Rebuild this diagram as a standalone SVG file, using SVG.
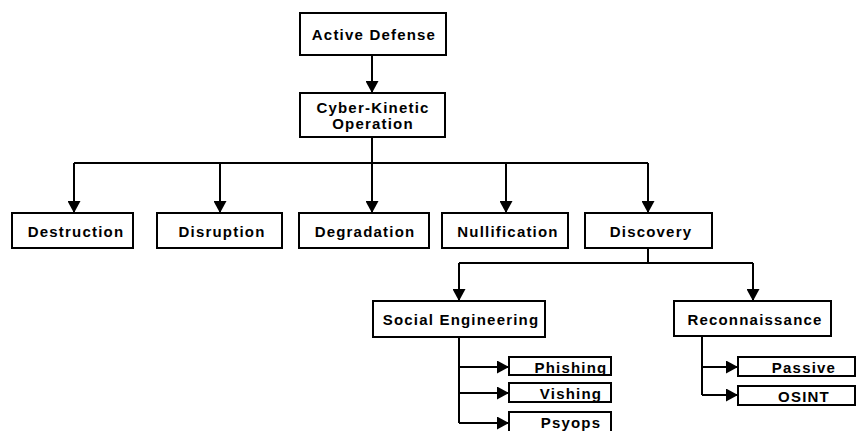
<svg xmlns="http://www.w3.org/2000/svg" width="857" height="431" viewBox="0 0 857 431">
<defs>
<marker id="ah" markerUnits="userSpaceOnUse" markerWidth="13" markerHeight="13" refX="12" refY="6.5" orient="auto">
<path d="M0,0 L12,6.5 L0,13 Z" fill="#000"/>
</marker>
<style>
rect{fill:#fff;stroke:#000;stroke-width:2}
text{font-family:"Liberation Sans",Arial,sans-serif;font-weight:bold;font-size:15px;letter-spacing:1.2px;text-anchor:middle;fill:#000}
#connectors path{fill:none;stroke:#000;stroke-width:2}
.a{marker-end:url(#ah)}
</style>
</defs>
<rect x="0" y="0" width="857" height="431" style="fill:#fff;stroke:none"/>
<g id="connectors">
<path class="a" d="M372,55 V93"/>
<path class="a" d="M372,137 V213"/>
<path d="M74,163 H648"/>
<path class="a" d="M74,163 V213"/>
<path class="a" d="M220,163 V213"/>
<path class="a" d="M506,163 V213"/>
<path class="a" d="M648,163 V213"/>
<path d="M648,248 V263"/>
<path d="M459,263 H753"/>
<path class="a" d="M459,263 V301"/>
<path class="a" d="M753,263 V301"/>
<path d="M459,337 V423"/>
<path class="a" d="M459,367 H509"/>
<path class="a" d="M459,393 H509"/>
<path class="a" d="M459,423 H509"/>
<path d="M702,336 V395"/>
<path class="a" d="M702,367 H738"/>
<path class="a" d="M702,395 H738"/>
</g>
<g id="active-defense"><rect x="300" y="13" width="146" height="42"/><text x="374" y="40">Active Defense</text></g>
<g id="cyber-kinetic"><rect x="300" y="93" width="145" height="44"/><text x="373" y="113">Cyber-Kinetic</text><text x="373" y="129">Operation</text></g>
<g id="destruction"><rect x="12" y="213" width="121" height="35"/><text x="76" y="237">Destruction</text></g>
<g id="disruption"><rect x="157" y="213" width="125" height="35"/><text x="222" y="237">Disruption</text></g>
<g id="degradation"><rect x="299" y="213" width="130" height="35"/><text x="365" y="237">Degradation</text></g>
<g id="nullification"><rect x="442" y="213" width="126" height="35"/><text x="508" y="237">Nullification</text></g>
<g id="discovery"><rect x="585" y="213" width="127" height="35"/><text x="651" y="237">Discovery</text></g>
<g id="social-engineering"><rect x="373" y="301" width="172" height="36"/><text x="461" y="325">Social Engineering</text></g>
<g id="reconnaissance"><rect x="674" y="301" width="157" height="35"/><text x="755" y="325">Reconnaissance</text></g>
<g id="phishing"><rect x="509" y="357" width="102" height="18"/><text x="571" y="373">Phishing</text></g>
<g id="vishing"><rect x="509" y="383" width="102" height="19"/><text x="571" y="399">Vishing</text></g>
<g id="psyops"><rect x="509" y="412" width="102" height="21"/><text x="571" y="428">Psyops</text></g>
<g id="passive"><rect x="738" y="357" width="117" height="19"/><text x="804" y="373">Passive</text></g>
<g id="osint"><rect x="738" y="386" width="117" height="19"/><text x="804" y="402">OSINT</text></g>
</svg>
